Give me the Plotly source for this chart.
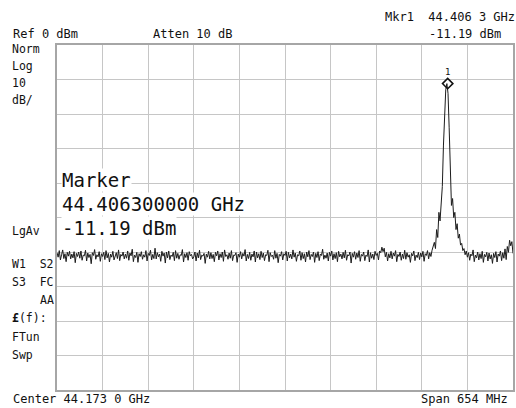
import numpy as np
import plotly.graph_objects as go

# Sweep settings
center_ghz = 44.1730
span_ghz = 0.654
ref_dbm = 0.0
db_per_div = 10.0

# Marker 1
marker_freq_ghz = 44.4063
marker_level_dbm = -11.19

# Trace 1 amplitude (dBm), 401 sweep points
trace_dbm = [
    -60.2, -61.5, -59.6, -62.3, -60.8, -59.4, -61.9, -60.5, -62.8, -60.1, -61.2, -59.8, -62.0, -60.6, -61.7, -59.9, -63.1, -60.4, -61.3, -60.0,
    -61.8, -59.7, -62.4, -60.9, -61.1, -59.5, -62.6, -60.3, -61.6, -60.7, -63.4, -60.2, -61.0, -59.3, -62.1, -60.8, -61.4, -59.9, -62.7, -60.5,
    -61.3, -60.1, -62.2, -59.6, -61.7, -60.4, -62.9, -60.6, -61.5, -59.8, -62.3, -61.0, -60.2, -61.9, -59.4, -62.5, -60.7, -61.2, -60.0, -62.0,
    -60.6, -61.8, -59.7, -62.4, -60.3, -61.1, -59.2, -62.8, -60.9, -61.6, -60.1, -63.0, -60.5, -61.3, -59.9, -62.1, -60.8, -61.5, -59.6, -62.6,
    -60.4, -61.0, -59.5, -62.3, -60.7, -61.9, -58.9, -62.0, -60.2, -61.4, -60.6, -62.7, -59.8, -61.2, -60.3, -63.2, -60.0, -61.7, -59.7, -62.2,
    -60.9, -61.3, -60.1, -62.5, -59.6, -61.8, -60.4, -62.1, -60.8, -61.0, -59.3, -62.9, -60.5, -61.6, -60.2, -62.4, -59.9, -61.1, -60.7, -62.0,
    -61.4, -60.0, -62.6, -60.3, -61.7, -59.5, -62.2, -60.9, -61.2, -60.4, -63.3, -60.6, -61.5, -59.8, -62.0, -60.2, -61.9, -60.7, -62.8, -60.1,
    -61.1, -59.7, -62.3, -60.5, -61.6, -60.0, -62.7, -59.4, -61.3, -60.8, -62.1, -60.3, -61.8, -59.6, -62.5, -60.9, -61.0, -60.2, -63.0, -60.6,
    -61.5, -59.9, -62.0, -60.4, -61.2, -59.3, -62.6, -60.7, -61.9, -60.1, -62.4, -60.6, -61.4, -59.7, -62.9, -60.0, -61.7, -60.5, -62.2, -59.8,
    -61.6, -60.3, -62.5, -60.8, -61.0, -59.5, -62.8, -60.2, -61.3, -60.9, -62.1, -59.6, -61.8, -60.4, -63.1, -60.7, -61.2, -59.9, -62.3, -60.5,
    -61.0, -59.8, -62.6, -60.1, -61.7, -60.6, -62.0, -59.4, -61.5, -60.3, -62.7, -60.8, -61.1, -59.7, -62.4, -60.2, -61.9, -60.5, -62.9, -60.0,
    -61.4, -59.6, -62.2, -60.7, -61.3, -60.0, -63.0, -60.4, -61.6, -59.9, -62.5, -60.6, -61.0, -59.2, -62.1, -60.9, -61.8, -60.3, -62.6, -60.1,
    -61.2, -59.7, -62.3, -60.5, -61.9, -60.2, -62.8, -59.8, -61.4, -60.6, -62.0, -60.1, -61.7, -59.5, -62.4, -60.8, -61.1, -60.0, -63.2, -60.4,
    -61.5, -59.9, -62.1, -60.3, -61.6, -59.6, -62.7, -60.7, -61.2, -60.0, -62.5, -60.9, -61.3, -59.4, -62.9, -60.2, -61.8, -60.6, -62.2, -59.8,
    -61.0, -60.4, -62.3, -59.7, -60.2, -58.6, -59.9, -58.9, -61.4, -60.1, -62.6, -60.5, -61.7, -59.8, -62.0, -60.3, -61.2, -59.6, -62.8, -60.7,
    -61.3, -60.0, -62.4, -60.6, -61.9, -59.5, -62.1, -60.2, -61.5, -60.8, -63.0, -60.4, -61.1, -59.7, -62.5, -60.9, -61.6, -60.1, -62.2, -60.3,
    -61.4, -59.8, -62.7, -60.5, -61.0, -59.6, -62.0, -60.2, -61.3, -59.5, -58.0, -57.2, -59.0, -53.5, -55.8, -48.5, -51.0, -46.0, -41.0, -29.0,
    -19.0, -13.0, -11.19, -14.0, -24.0, -37.0, -46.5, -44.5, -50.0, -48.5, -53.5, -51.8, -56.0, -54.8, -58.0, -57.5, -59.6, -59.0, -60.8, -59.7,
    -61.5, -60.2, -62.4, -60.6, -61.1, -59.4, -62.8, -60.9, -61.7, -60.0, -62.3, -60.5, -61.9, -59.8, -63.0, -60.7, -61.4, -60.1, -62.6, -60.3,
    -62.0, -60.8, -63.3, -60.4, -61.6, -59.9, -62.9, -60.6, -61.2, -59.7, -62.5, -60.2, -61.8, -59.1, -62.2, -58.4, -60.1, -56.6, -58.2, -57.0,
    -60.4,
]

n_points = len(trace_dbm)
start_ghz = center_ghz - span_ghz / 2
stop_ghz = center_ghz + span_ghz / 2
freq_ghz = start_ghz + span_ghz * np.arange(n_points) / (n_points - 1)

W, H = 516, 408
ML, MR, MT, MB = 57, 1, 45, 18
PW, PH = W - ML - MR, H - MT - MB

FONT = "DejaVu Sans Mono"
GRID = "#c6c6c6"
FRAME = "#a6a6a6"
INK = "#111111"


def paper(x, y):
    """Pixel position on the page -> paper coordinates."""
    return (x - ML) / PW, (H - MB - y) / PH


fig = go.Figure()
fig.add_trace(go.Scatter(
    x=freq_ghz, y=trace_dbm, mode="lines",
    line=dict(color="#1c1c1c", width=1), hoverinfo="skip",
))
fig.add_trace(go.Scatter(
    x=[marker_freq_ghz], y=[marker_level_dbm], mode="markers+text",
    marker=dict(symbol="diamond-open", size=8, color=INK, line=dict(width=1.5, color=INK)),
    text=["1"], textposition="top center",
    textfont=dict(family=FONT, size=9, color=INK), hoverinfo="skip",
))

annotations = []


def label(text, x, y, size=12, anchor="left", bg=None):
    px_, py_ = paper(x, y)
    a = dict(text=text, x=px_, y=py_, xref="paper", yref="paper",
             xanchor=anchor, yanchor="middle", showarrow=False,
             font=dict(family=FONT, size=size, color=INK))
    if bg:
        a.update(bgcolor=bg, borderpad=0)
    annotations.append(a)


# Header
label(f"Mkr1  {marker_freq_ghz:.3f} {int(round(marker_freq_ghz * 1e4)) % 10} GHz", 384, 17)
label(f"{marker_level_dbm:.2f} dBm", 429, 34)
label(f"Ref {ref_dbm:.0f} dBm", 11, 34)
label("Atten 10 dB", 151, 34)

# Left status column
for txt, y in [("Norm", 49), ("Log", 66), (f"{db_per_div:.0f}", 83), ("dB/", 100),
               ("LgAv", 231), ("W1  S2", 264), ("S3  FC", 282),
               ("<b>£</b>(f):", 318), ("FTun", 337), ("Swp", 355)]:
    label(txt, 10, y, size=11.5)
label("AA", 56, 300, size=11.5, anchor="right")

# Footer
label("Center 44.173 0 GHz", 11, 399)
label("Span 654 MHz", 512, 399, anchor="right")

# Marker readout block
label("Marker", 61, 180, size=19, bg="white")
label(f"{marker_freq_ghz:.9f} GHz", 61, 204, size=19, bg="white")
label(f"{marker_level_dbm:.2f} dBm", 61, 228, size=19, bg="white")

axis_common = dict(showgrid=True, gridcolor=GRID, gridwidth=1, zeroline=False,
                   showline=True, linecolor=FRAME, linewidth=2, mirror=True,
                   showticklabels=False, ticks="")

fig.update_layout(
    width=W, height=H, margin=dict(l=ML, r=MR, t=MT, b=MB),
    paper_bgcolor="white", plot_bgcolor="white", showlegend=False,
    xaxis=dict(range=[start_ghz, stop_ghz], tick0=start_ghz, dtick=span_ghz / 10, **axis_common),
    yaxis=dict(range=[ref_dbm - 10 * db_per_div, ref_dbm], tick0=ref_dbm, dtick=db_per_div, **axis_common),
    annotations=annotations,
)

fig.write_html("out.html", config=dict(displayModeBar=False))
